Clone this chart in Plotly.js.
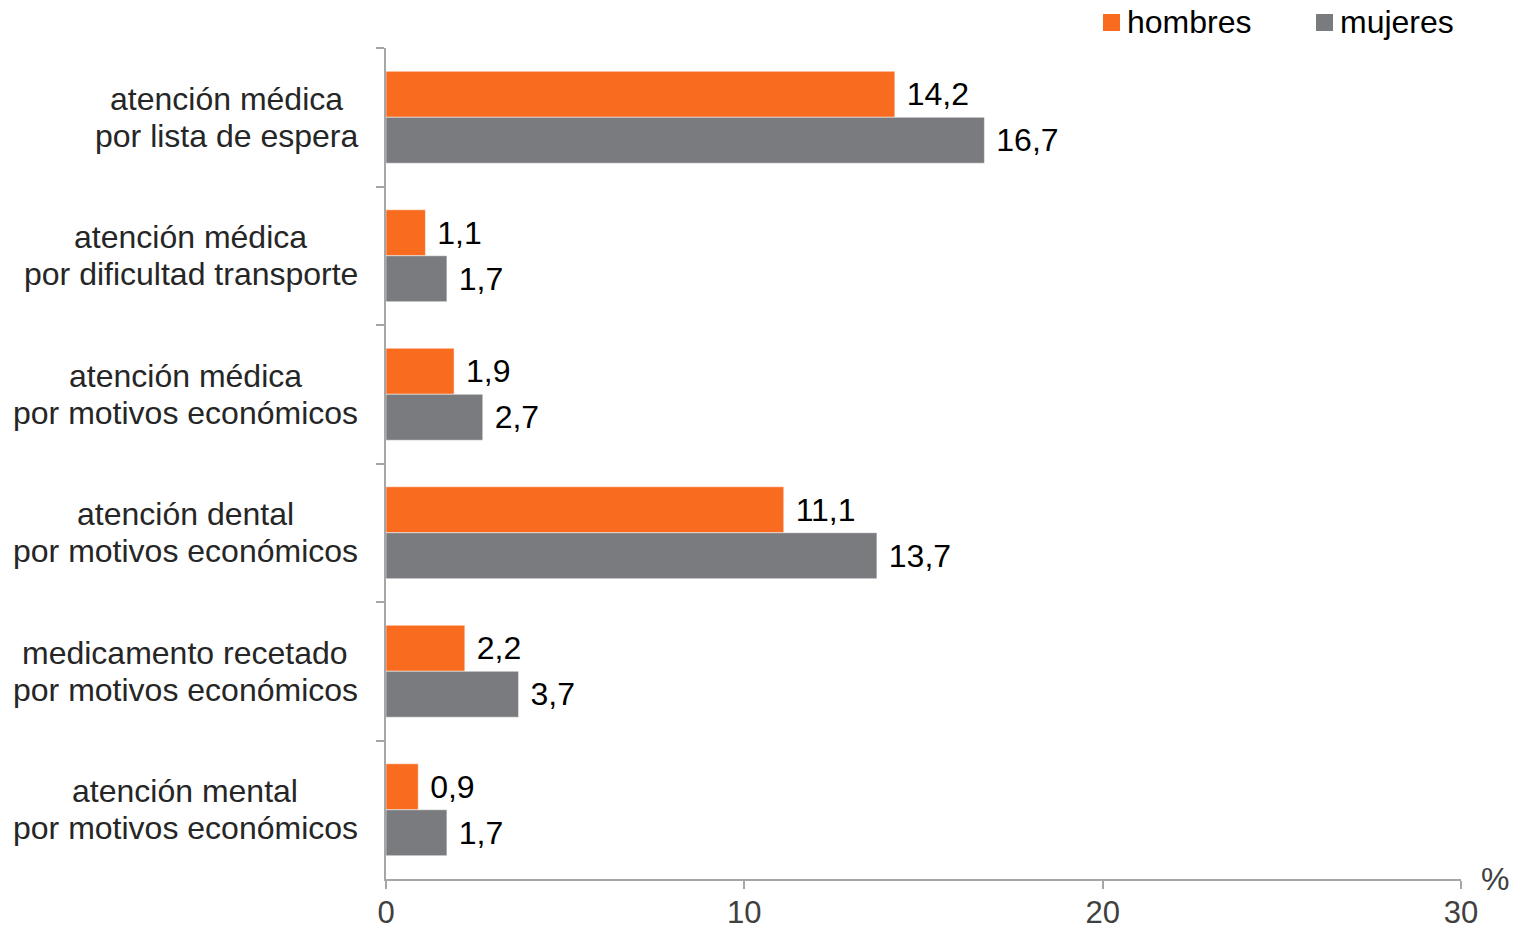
<!DOCTYPE html>
<html>
<head>
<meta charset="utf-8">
<script src="https://cdn.plot.ly/plotly-3.0.1.min.js"></script>
<style>html,body{margin:0;padding:0;background:#fff;}#chart{width:1522px;height:930px;}</style>
</head>
<body>
<div id="chart"></div>
<script>
const categories = [
  "atención médica<br>por lista de espera",
  "atención médica<br>por dificultad transporte",
  "atención médica<br>por motivos económicos",
  "atención dental<br>por motivos económicos",
  "medicamento recetado<br>por motivos económicos",
  "atención mental<br>por motivos económicos"
];
const hombres = [14.2, 1.1, 1.9, 11.1, 2.2, 0.9];
const mujeres = [16.7, 1.7, 2.7, 13.7, 3.7, 1.7];
const xTicks = [0, 10, 20, 30];
const seriesNames = ["hombres", "mujeres"];
const seriesColors = ["#F96B1F", "#7A7B7F"];
const unitLabel = "%";

const FONT = "'Liberation Sans', Arial, sans-serif";
const FS = 32;

// measure text width to centre the two label lines within a right-aligned block
const cv = document.createElement("canvas").getContext("2d");
cv.font = FS + "px 'Liberation Sans', Arial, sans-serif";
const tw = s => cv.measureText(s).width;

const traces = [hombres, mujeres].map((vals, i) => ({
  type: "bar", orientation: "h", name: seriesNames[i],
  y: categories, x: vals,
  marker: {color: seriesColors[i], line: {color: "rgba(255,255,255,0.5)", width: 1}},
  texttemplate: "\u00a0%{x:.1f}", textposition: "outside", cliponaxis: false,
  textfont: {family: FONT, size: FS, color: "#000"}, hoverinfo: "x+name",
  showlegend: false
}));

const annotations = [];
categories.forEach(c => {
  const lines = c.split("<br>");
  const wmax = Math.max(...lines.map(tw));
  lines.forEach((ln, k) => {
    annotations.push({
      xref: "paper", yref: "y", x: 0, y: c, xanchor: "center", yanchor: "middle",
      xshift: -28 - wmax / 2, yshift: (k === 0 ? 18.5 : -18.5), text: ln, showarrow: false,
      font: {family: FONT, size: FS, color: "#262626"}
    });
  });
});
annotations.push({
  xref: "paper", yref: "paper", x: 1, y: 0, xanchor: "left", yanchor: "middle",
  xshift: 18, text: unitLabel, showarrow: false,
  font: {family: FONT, size: FS, color: "#404040"}
});

// manual legend (pixel positions converted to paper coords)
const L = 386, W = 1075, T = 48, H = 831;
const px = v => (v - L) / W;
const py = v => 1 + (T - v) / H;
const legendX = [1103, 1316];
const shapes = [];
seriesNames.forEach((nm, i) => {
  shapes.push({
    type: "rect", xref: "paper", yref: "paper",
    x0: px(legendX[i]), x1: px(legendX[i] + 17), y0: py(31), y1: py(14),
    fillcolor: seriesColors[i], line: {width: 0}
  });
  annotations.push({
    xref: "paper", yref: "paper", x: px(legendX[i] + 22), y: py(22),
    xanchor: "left", yanchor: "middle", text: nm, showarrow: false,
    font: {family: FONT, size: FS, color: "#000"}
  });
});

const layout = {
  width: 1522, height: 930,
  margin: {l: 386, r: 61, t: 48, b: 51},
  paper_bgcolor: "#fff", plot_bgcolor: "#fff",
  font: {family: FONT, size: FS, color: "#404040"},
  separators: ",.",
  barmode: "group", bargap: 0.336, bargroupgap: 0,
  showlegend: false,
  xaxis: {
    range: [0, 30], tickvals: xTicks, ticktext: xTicks.map(String),
    showgrid: false, zeroline: false, showline: true, linecolor: "#A6A6A6", linewidth: 2,
    ticks: "outside", ticklen: 8, tickwidth: 2, tickcolor: "#A6A6A6",
    ticklabelstandoff: -3,
    tickfont: {family: FONT, size: 31, color: "#404040"}
  },
  yaxis: {
    type: "category", autorange: "reversed",
    showgrid: false, zeroline: false, showline: true, linecolor: "#A6A6A6", linewidth: 2,
    ticks: "outside", tickson: "boundaries", ticklen: 8, tickwidth: 2, tickcolor: "#A6A6A6",
    showticklabels: false
  },
  shapes: shapes,
  annotations: annotations
};

Plotly.newPlot("chart", traces, layout, {displayModeBar: false, staticPlot: true});
</script>
</body>
</html>
